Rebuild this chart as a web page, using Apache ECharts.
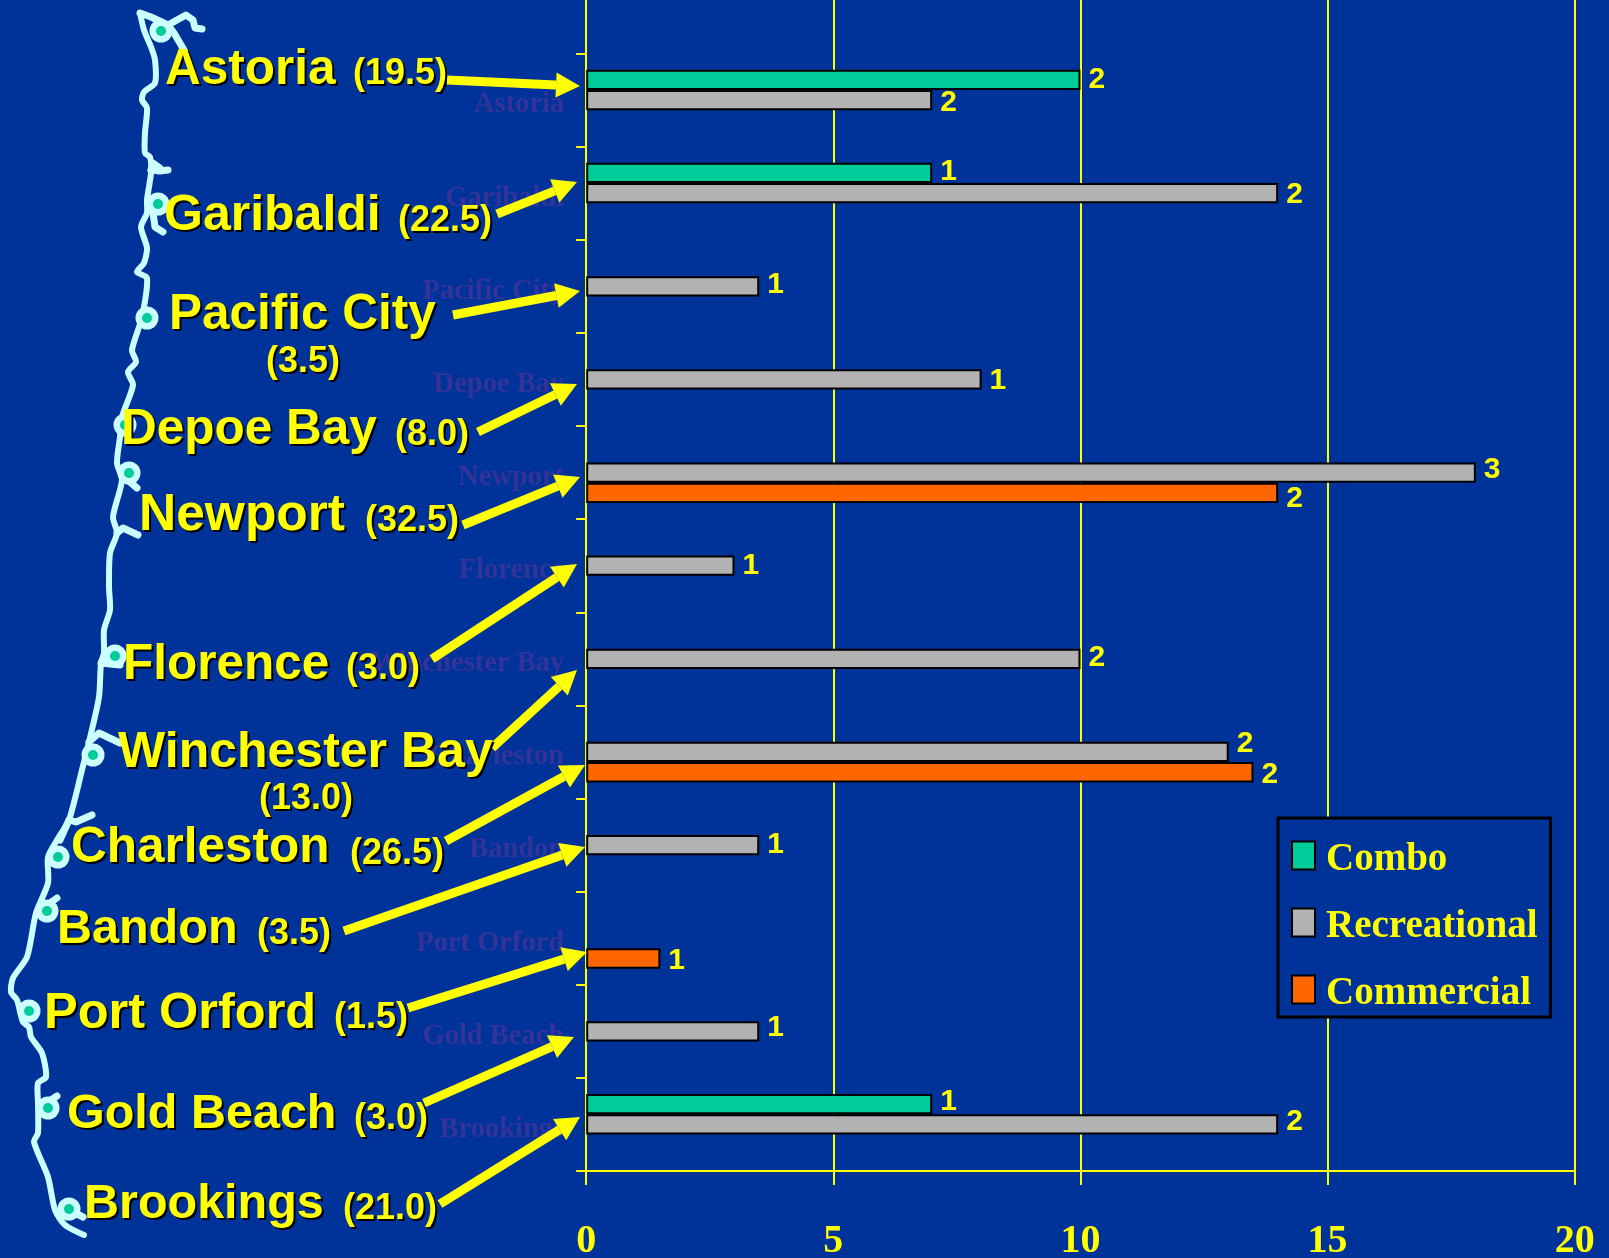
<!DOCTYPE html>
<html><head><meta charset="utf-8">
<style>html,body{margin:0;padding:0;background:#003399}#c{width:1609px;height:1258px}</style>
<script src="https://cdn.jsdelivr.net/npm/echarts@6/dist/echarts.min.js"></script>
</head><body><div id="c"></div>
<script>
// Data. The first category is blank: the plot continues past the top of the picture.
const categories = ['', 'Astoria','Garibaldi','Pacific City','Depoe Bay','Newport','Florence','Winchester Bay','Charleston','Bandon','Port Orford','Gold Beach','Brookings'];
const combo        = [null,10,7,null,null,null,null,null,null,null,null,null,7];
const recreational = [null,7,14,3.5,8,18,3,10,13,3.5,null,3.5,14];
const commercial   = [null,null,null,null,null,14,null,null,13.5,null,1.5,null,null];
const comboCounts        = [null,2,1,null,null,null,null,null,null,null,null,null,1];
const recreationalCounts = [null,2,2,1,1,3,1,2,2,1,null,1,2];
const commercialCounts   = [null,null,null,null,null,2,null,null,2,null,1,null,null];
const xTicks = [0,5,10,15,20];
const portNames = ['Astoria','Garibaldi','Pacific City','Depoe Bay','Newport','Florence','Winchester Bay','Charleston','Bandon','Port Orford','Gold Beach','Brookings'];
const portTotals = ['(19.5)','(22.5)','(3.5)','(8.0)','(32.5)','(3.0)','(13.0)','(26.5)','(3.5)','(1.5)','(3.0)','(21.0)'];

// Styles and annotation layout
const YEL='#FFFF00', BG='#003399', COAST='#CCFFFF', TEAL='#00CC99', GRAY='#B2B2B2', ORANGE='#FF6600', DIM='#333399';
const SANS='"Liberation Sans",Arial,sans-serif', SERIF='"Liberation Serif","Times New Roman",serif';
const comboNudge=[0,0,-1,0,0,0,0,0,0,0,0,0,-2];
const recNudge=[0,3,2,-2,1,-3,0,-1,-8,0,0,-4,-3];
const comNudge=[0,0,0,0,0,6,0,0,2,0,2,0,0];
const nameSize=[49.5,50,49.5,49.5,51.5,49.5,50,49.5,48.5,50.5,48.5,48.5];
const nameAt=[[165,70],[164,216],[169,315],[121,430],[139,516],[123,665],[118,753],[71,848],[57,930],[44,1014],[67,1115],[84,1205]];
const totalAt=[[353,74],[398,221],[266,362],[395,435],[365,521],[346,669],[259,799],[350,854],[257,934],[334,1018],[354,1119],[343,1209]];
const arrows=[[447,80,580,86],[497,214,577,182],[453,315,580,291],[478,432,577,384],[463,525,580,477],[432,659,577,564],[492,748,577,670],[446,841,585,765],[344,931,585,847],[408,1008,587,952],[424,1103,574,1037],[440,1204,580,1117]];
const dots=[[161,31],[158,204],[147,318],[125,425],[129,473],[115,656],[93,755],[58,857],[47,911],[29,1011],[48,1108],[69,1209]];
const coast=[[140,13],[144,30],[151,47],[155,60],[155,83],[144,92],[142,100],[147,108],[145,133],[145,153],[150,157],[151,173],[147,200],[147,213],[141,227],[147,248],[144,263],[137,272],[147,278],[142,317],[132,350],[136,362],[128,372],[133,385],[122,417],[120,437],[117,463],[122,480],[113,517],[117,533],[110,553],[109,587],[110,610],[104,630],[104,653],[101,663],[99,697],[89,742],[82,770],[69,820],[57,840],[48,857],[48,883],[36,913],[27,957],[13,978],[11,992],[17,1000],[23,1022],[29,1027],[31,1037],[42,1053],[46,1077],[38,1083],[38,1103],[38,1133],[34,1142],[48,1177],[55,1210],[65,1225],[84,1235]];
const branches=[
 [[140,13],[151,17],[168,25],[186,15],[193,20],[195,28],[202,29]],
 [[168,25],[174,33],[184,50]],
 [[151,170],[160,171],[168,170]],[[151,170],[153,163],[160,168]],
 [[153,213],[155,227],[163,232]],
 [[130,482],[137,488]],
 [[117,533],[123,528],[138,535]],
 [[101,663],[120,665]],
 [[89,742],[99,733],[120,743]],
 [[69,820],[76,822],[92,815]],[[69,820],[60,840]],
 [[47,905],[57,898]],[[48,1102],[57,1096]],[[73,1212],[83,1217]]
];

function arrow(a){
  const [x0,y0,x1,y1]=a, L=Math.hypot(x1-x0,y1-y0), ux=(x1-x0)/L, uy=(y1-y0)/L, h=24, w=12.5;
  const bx=x1-ux*h, by=y1-uy*h;
  return [
    {type:'polyline',z:30,shape:{points:[[x0,y0],[bx,by]]},style:{stroke:YEL,lineWidth:9,fill:null}},
    {type:'polygon',z:30,shape:{points:[[x1,y1],[bx-uy*w,by+ux*w],[bx+uy*w,by-ux*w]]},style:{fill:YEL}}
  ];
}
const shadow={textShadowColor:'#000',textShadowOffsetX:2,textShadowOffsetY:2,textShadowBlur:0.5};
const graphics=[];
graphics.push({type:'polyline',z:20,shape:{points:coast,smooth:0.25},style:{stroke:COAST,lineWidth:6,fill:null,lineJoin:'round',lineCap:'round'}});
branches.forEach(b=>graphics.push({type:'polyline',z:20,shape:{points:b},style:{stroke:COAST,lineWidth:7,fill:null,lineJoin:'round',lineCap:'round'}}));
dots.forEach(d=>{
  graphics.push({type:'circle',z:21,shape:{cx:d[0],cy:d[1],r:11.5},style:{fill:COAST}});
  graphics.push({type:'circle',z:22,shape:{cx:d[0],cy:d[1],r:5},style:{fill:TEAL}});
});
arrows.forEach(a=>graphics.push(...arrow(a)));
portNames.forEach((n,i)=>{
  graphics.push({type:'text',z:40,x:nameAt[i][0],y:nameAt[i][1],style:Object.assign({text:n,fill:YEL,font:'bold '+nameSize[i]+'px '+SANS,align:'left',verticalAlign:'middle'},shadow)});
  graphics.push({type:'text',z:40,x:totalAt[i][0],y:totalAt[i][1],style:Object.assign({text:portTotals[i],fill:YEL,font:'bold 36px '+SANS,align:'left',verticalAlign:'middle'},shadow)});
});

function barSeries(name,data,counts,nudge,color){
  return {name,type:'bar',data,barWidth:20.3,barGap:'0%',
    itemStyle:{color,borderColor:'#000',borderWidth:2},
    label:{show:true,position:'right',distance:8,color:YEL,fontFamily:SANS,fontWeight:'bold',fontSize:30,
      formatter:p=>counts[p.dataIndex]==null?'':String(counts[p.dataIndex])},
    labelLayout:p=>({dy:nudge[p.dataIndex]})
  };
}
const chart=echarts.init(document.getElementById('c'),null,{renderer:'canvas'});
chart.setOption({
  animation:false,backgroundColor:BG,
  grid:{left:586.2,top:-39.6,width:988.5,height:1210.6,containLabel:false,outerBoundsMode:'none'},
  xAxis:{type:'value',min:0,max:20,interval:5,position:'bottom',
    axisLine:{show:true,lineStyle:{color:YEL,width:2}},
    axisTick:{show:true,length:14,lineStyle:{color:YEL,width:2}},
    splitLine:{show:true,lineStyle:{color:YEL,width:2}},
    axisLabel:{color:YEL,fontFamily:SERIF,fontWeight:'bold',fontSize:40,margin:51,hideOverlap:false,showMinLabel:true,showMaxLabel:true,
      formatter:v=>xTicks.includes(v)?String(v):''}},
  yAxis:{type:'category',inverse:true,data:categories,
    axisLine:{show:true,lineStyle:{color:YEL,width:2}},
    axisTick:{show:true,length:10,lineStyle:{color:YEL,width:2}},
    splitLine:{show:false},
    axisLabel:{margin:22,interval:0,formatter:v=>v?'{a|'+v+'}':'',
      rich:{a:{color:DIM,fontFamily:SERIF,fontWeight:'bold',fontSize:28.5,lineHeight:30,padding:[10,0,0,0]}}}},
  legend:{left:1278,top:818,orient:'vertical',selectedMode:false,icon:'rect',itemWidth:23,itemHeight:28,itemGap:20,
    padding:[14,13,4,13],backgroundColor:BG,borderColor:'#000',borderWidth:3,z:50,
    data:['Combo','Recreational','Commercial'],
    formatter:'{a|{name}}',
    textStyle:{color:YEL,rich:{a:{color:YEL,fontFamily:SERIF,fontWeight:'bold',fontSize:39,lineHeight:28,padding:[8,0,0,6]}}}},
  graphic:graphics,
  series:[
    barSeries('Combo',combo,comboCounts,comboNudge,TEAL),
    barSeries('Recreational',recreational,recreationalCounts,recNudge,GRAY),
    barSeries('Commercial',commercial,commercialCounts,comNudge,ORANGE)
  ]
});
</script></body></html>
